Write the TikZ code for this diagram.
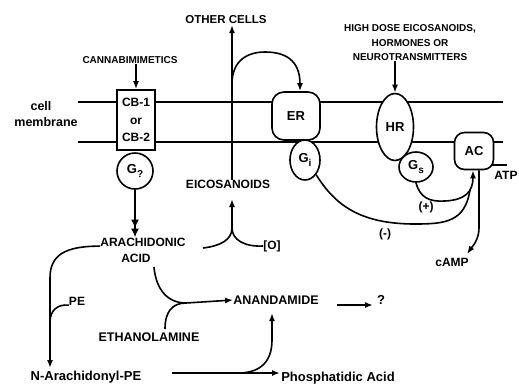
\documentclass[tikz,border=0pt]{standalone}
\usepackage{fontspec}
\setmainfont{Liberation Sans}
\usetikzlibrary{arrows.meta,shapes.geometric,calc}
\newcommand{\gsub}[1]{\raisebox{-3.5pt}{\fontsize{10}{10}\selectfont #1}}
\begin{document}
\begin{tikzpicture}[x=1pt,y=-1pt,
  lbl/.style={font=\bfseries\fontsize{12}{14}\selectfont,inner sep=0pt},
  sml/.style={font=\bfseries\fontsize{10}{14.5}\selectfont,inner sep=0pt},
  conn/.style={line width=1.6pt},
  arr/.style={conn,-{Latex[length=8pt,width=6pt]}},
  memb/.style={line width=1.3pt},
  comp/.style={draw,line width=1.6pt,fill=white,font=\bfseries\fontsize{13}{15}\selectfont,inner sep=0pt}]
\useasboundingbox (0,0) rectangle (519,384);
% membrane
\coordinate (mtl) at (78,102); \coordinate (mtr) at (503,102);
\coordinate (mbl) at (78,142); \coordinate (mbr) at (503,142);
\draw[memb] (mtl) -- (mtr);
\draw[memb] (mbl) -- (mbr);
\node[lbl,font=\bfseries\fontsize{12.5}{16}\selectfont] (cell) at (41,106) {cell};
\node[lbl,font=\bfseries\fontsize{12.5}{16}\selectfont] (memtxt) at (46,122) {membrane};
% components
\node[comp,rectangle,minimum width=38,minimum height=60,align=center,font=\bfseries\fontsize{12}{17.5}\selectfont] (cb) at (136,120) {CB-1\\or\\CB-2};
\node[comp,rectangle,rounded corners=12pt,minimum width=48,minimum height=48] (er) at (296,116) {ER};
\node[comp,ellipse,minimum width=37,minimum height=67] (hr) at (395,127) {HR};
\node[comp,ellipse,minimum width=30,minimum height=40] (gi) at (305,160) {G\gsub{i}};
\node[comp,ellipse,minimum width=34,minimum height=30] (gs) at (416,167) {G\gsub{s}};
\node[comp,rectangle,rounded corners=10pt,minimum width=39,minimum height=37] (ac) at (474,151) {AC};
\node[comp,circle,minimum size=36] (gq) at (135,171) {G\gsub{?}};
% labels
\node[sml] (cann) at (130,60) {CANNABIMIMETICS};
\node[sml,align=center] (hd) at (410,43) {HIGH DOSE EICOSANOIDS,\\HORMONES OR\\NEUROTRANSMITTERS};
\node[lbl,font=\bfseries\fontsize{11.5}{14}\selectfont] (oc) at (226,20) {OTHER CELLS};
\node[lbl] (eico) at (228,184) {EICOSANOIDS};
\node[lbl] (ox) at (272,246) {[O]};
\node[lbl] (ara) at (143,242) {ARACHIDONIC};
\node[lbl] (acid) at (136,258) {ACID};
\node[lbl] (pe) at (77,301) {PE};
\node[lbl,font=\bfseries\fontsize{12.5}{14}\selectfont] (eth) at (149,337) {ETHANOLAMINE};
\node[lbl,font=\bfseries\fontsize{12.5}{14}\selectfont] (anand) at (276,300) {ANANDAMIDE};
\node[lbl,font=\bfseries\fontsize{13}{14}\selectfont] (qm) at (381,300) {?};
\node[lbl,font=\bfseries\fontsize{13}{14}\selectfont] (nap) at (86,377) {N-Arachidonyl-PE};
\node[lbl,font=\bfseries\fontsize{13}{14}\selectfont] (pa) at (338,378) {Phosphatidic Acid};
\node[lbl] (plus) at (426,207) {(+)};
\node[lbl] (minus) at (385,234) {(-)};
\node[lbl] (camp) at (452,262) {cAMP};
\node[lbl] (atp) at (506,175) {ATP};
% coordinates
\coordinate (ocin) at (232,25);
\coordinate (br) at (232,84);
\coordinate (eicoin) at (232,199);
\coordinate (ystem) at (232,228);
\coordinate (yl) at (203,248);
\coordinate (napin) at (50,368);
\coordinate (join) at (186,303);
\coordinate (acidout) at (154,267);
\coordinate (ethout) at (165,329);
\coordinate (napout) at (172,373);
\coordinate (pain) at (280,373);
\coordinate (nbr) at (238,373);
\coordinate (anin) at (272,313);
\coordinate (qarr) at (373,305);
\coordinate (aarr) at (337,305);
\coordinate (atpend) at (507,165);
\coordinate (atpst) at (492,165);
\coordinate (campin) at (467,254);
% connectors
\draw[arr] (cann.south -| cb.north) -- (cb.north);
\draw[arr] (hd.south -| hr.north) -- (hr.north);
\draw[arr] (eico.north -| ocin) -- (ocin);
\draw[arr] (br) .. controls (232,60) and (248,52) .. (265,52) .. controls (285,52) and (300,60) .. ([xshift=4pt]er.north);
\draw[conn] (yl) .. controls (220,246) and (232,240) .. (ystem) .. controls (232,240) and (245,247) .. (ox.west);
\draw[arr] (ystem) -- (eicoin);
\draw[line width=2.8pt,-{Latex[length=9pt,width=8pt]Latex[length=9pt,width=8pt]}] (gq.south) -- (gq.south |- ara.north);
\draw[arr] (ara.base west) .. controls (65,246) and (50,255) .. (50,278) -- (napin);
\draw[conn] (pe.base west) .. controls (58,304) and (50,310) .. (50,322);
\draw[arr] (acidout) .. controls (156,290) and (168,303) .. (join) -- (anand.west);
\draw[conn] (ethout) .. controls (165,312) and (172,303) .. (join);
\draw[arr] (aarr) -- (qarr);
\draw[arr] (napout) -- (pain);
\draw[arr] (nbr) .. controls (262,373) and (272,360) .. (272,340) -- (anin);
\draw[conn] (gi.south east) .. controls (335,205) and (360,224) .. (415,224) .. controls (445,224) and (465,222) .. (470,190);
\draw[arr] (gs.south) .. controls (420,198) and (430,202) .. (445,201) .. controls (465,200) and (473,192) .. ([xshift=-1pt]ac.south);
\draw[arr] ([xshift=5pt]ac.south) -- (479,228) .. controls (479,240) and (472,247) .. (campin);
\draw[conn] (atpst) -- (atpend);
\end{tikzpicture}
\end{document}
